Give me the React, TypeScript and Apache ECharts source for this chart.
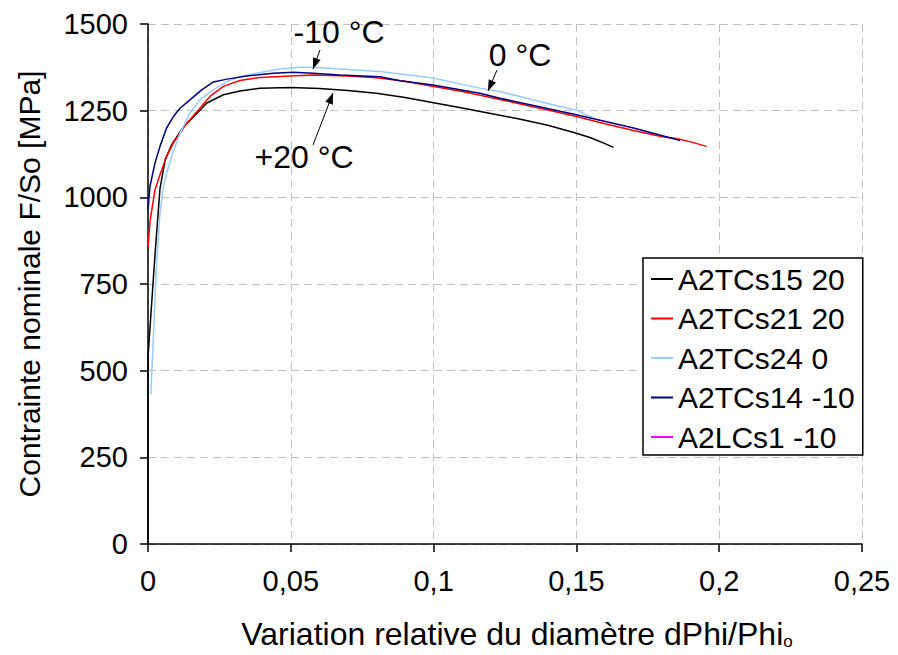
import React, { useEffect, useRef } from "react";
import * as echarts from "echarts";

// Tick values
const xTickValues = [0, 0.05, 0.1, 0.15, 0.2, 0.25];
const yTickValues = [0, 250, 500, 750, 1000, 1250, 1500];

const seriesNames = ["A2TCs15 20", "A2TCs21 20", "A2TCs24 0", "A2TCs14 -10", "A2LCs1 -10"];
const seriesColors = ["#000000", "#ff0000", "#99ccff", "#000080", "#ff00ff"];

// [dPhi/Phi0, F/So MPa]
const a2tcs15_20: number[][] = [
  [0, 0], [0, 540], [0.0025, 840], [0.0042, 1025], [0.006, 1108], [0.0083, 1152], [0.0124, 1203],
  [0.0159, 1232], [0.0206, 1272], [0.0264, 1296], [0.0322, 1307], [0.0392, 1315], [0.05, 1317],
  [0.06, 1314], [0.07, 1308], [0.08, 1300], [0.09, 1288], [0.1, 1273], [0.11, 1258], [0.12, 1242],
  [0.13, 1226], [0.14, 1208], [0.15, 1185], [0.155, 1172], [0.16, 1155], [0.163, 1144],
];
const a2tcs21_20: number[][] = [
  [0, 855], [0.0007, 930], [0.00245, 1022], [0.0042, 1065], [0.0065, 1118], [0.0089, 1157],
  [0.0112, 1185], [0.0136, 1214], [0.0171, 1247], [0.0217, 1291], [0.0264, 1320], [0.0322, 1337],
  [0.0392, 1346], [0.0497, 1350], [0.0578, 1353], [0.07, 1350], [0.08, 1345], [0.09, 1335],
  [0.1, 1320], [0.11, 1305], [0.12, 1288], [0.13, 1270], [0.14, 1252], [0.15, 1233], [0.16, 1212],
  [0.17, 1193], [0.18, 1175], [0.185, 1170], [0.19, 1160], [0.1956, 1147],
];
const a2tcs24_0: number[][] = [
  [0.001, 432], [0.0019, 600], [0.003, 811], [0.0042, 955], [0.0054, 1032], [0.0065, 1070],
  [0.0089, 1132], [0.0112, 1185], [0.0147, 1243], [0.0182, 1281], [0.0229, 1310], [0.0276, 1334],
  [0.0322, 1348], [0.0392, 1360], [0.0462, 1370], [0.0532, 1375], [0.0578, 1375], [0.0812, 1363],
  [0.0998, 1344], [0.1162, 1315], [0.1232, 1305], [0.1443, 1262], [0.15, 1252], [0.1559, 1228],
];
const a2tcs14_m10: number[][] = [
  [0, 965], [0.0007, 1032], [0.00245, 1099], [0.0042, 1147], [0.0065, 1200], [0.0089, 1233],
  [0.0112, 1257], [0.0147, 1281], [0.0188, 1310], [0.0229, 1333], [0.0276, 1341], [0.0346, 1350],
  [0.0439, 1358], [0.0509, 1361], [0.0578, 1358], [0.0672, 1353], [0.0812, 1348], [0.0882, 1336],
  [0.0998, 1324], [0.1162, 1300], [0.1232, 1286], [0.15, 1238], [0.17, 1200], [0.1863, 1164],
];
const a2lcs1_m10: number[][] = [];

const seriesData = [a2tcs15_20, a2tcs21_20, a2tcs24_0, a2tcs14_m10, a2lcs1_m10];

// Annotations: label text, label centre, arrow start -> arrow tip (pixels)
const annotationTexts = ["-10 °C", "0 °C", "+20 °C"];
const annotationPos = [[339, 32], [520, 55], [304, 157]];
const annotationArrows = [[320, 50, 313, 69], [497, 70, 488, 91], [313, 145, 333, 93]];

const FONT = "'Liberation Sans', Arial, sans-serif";

function arrowHead(x1: number, y1: number, x2: number, y2: number) {
  const dx = x2 - x1, dy = y2 - y1;
  const len = Math.sqrt(dx * dx + dy * dy);
  const ux = dx / len, uy = dy / len;
  const bx = x2 - ux * 11, by = y2 - uy * 11;
  const px = -uy * 4, py = ux * 4;
  return [[x2, y2], [bx + px, by + py], [bx - px, by - py]];
}

export default function App() {
  const ref = useRef<HTMLDivElement>(null);
  useEffect(() => {
    if (!ref.current) return;
    const chart = echarts.init(ref.current, undefined, { renderer: "svg" });
    const graphics: any[] = [];
    annotationTexts.forEach((t, i) => {
      graphics.push({
        type: "text",
        x: annotationPos[i][0],
        y: annotationPos[i][1],
        z: 100,
        style: {
          text: t,
          fontSize: 32,
          fontFamily: FONT,
          fill: "#000",
          align: "center",
          verticalAlign: "middle",
          textAlign: "center",
          textVerticalAlign: "middle",
        },
      });
      const [x1, y1, x2, y2] = annotationArrows[i];
      graphics.push({
        type: "line",
        z: 100,
        shape: { x1, y1, x2, y2 },
        style: { stroke: "#000", lineWidth: 1 },
      });
      graphics.push({
        type: "polygon",
        z: 100,
        shape: { points: arrowHead(x1, y1, x2, y2) },
        style: { fill: "#000" },
      });
    });

    chart.setOption({
      animation: false,
      backgroundColor: "#fff",
      textStyle: { fontFamily: FONT },
      grid: { left: 148, right: 36, top: 24, bottom: 110, containLabel: false },
      legend: {
        orient: "vertical",
        left: 643,
        top: 258,
        selectedMode: false,
        icon: "rect",
        itemWidth: 22,
        itemHeight: 2,
        itemGap: 9.5,
        padding: [6, 8, 3, 8],
        borderColor: "#000",
        borderWidth: 1.5,
        backgroundColor: "#fff",
        textStyle: { fontSize: 30, lineHeight: 30, color: "#000", fontFamily: FONT },
        data: seriesNames,
      },
      xAxis: {
        type: "value",
        min: xTickValues[0],
        max: xTickValues[xTickValues.length - 1],
        interval: 0.05,
        name: "{a|Variation relative du diamètre dPhi/Phi}{s|o}",
        nameLocation: "middle",
        nameGap: 74,
        nameTextStyle: {
          padding: [0, 0, 0, 24],
          rich: {
            a: { fontSize: 32, color: "#000", fontFamily: FONT },
            s: { fontSize: 17, color: "#000", fontFamily: FONT, verticalAlign: "bottom", padding: [14, 0, 0, 0] },
          },
        },
        axisLine: { lineStyle: { color: "#000", width: 1.5 } },
        axisTick: { show: true, inside: false, length: 8, lineStyle: { color: "#000", width: 1.5 } },
        axisLabel: {
          fontSize: 29,
          color: "#000",
          margin: 22,
          fontFamily: FONT,
          formatter: (v: number) => String(Number(v.toFixed(2))).replace(".", ","),
        },
        splitLine: { show: true, lineStyle: { color: "#c0c0c0", width: 1, type: [8, 5] } },
      },
      yAxis: {
        type: "value",
        min: yTickValues[0],
        max: yTickValues[yTickValues.length - 1],
        interval: 250,
        name: "Contrainte nominale F/So [MPa]",
        nameLocation: "middle",
        nameRotate: 90,
        nameGap: 104,
        nameTextStyle: { fontSize: 30, color: "#000", fontFamily: FONT },
        axisLine: { show: true, lineStyle: { color: "#000", width: 1.5 } },
        axisTick: { show: true, inside: false, length: 8, lineStyle: { color: "#000", width: 1.5 } },
        axisLabel: {
          fontSize: 29,
          color: "#000",
          margin: 20,
          fontFamily: FONT,
          formatter: (v: number) => String(v),
        },
        splitLine: { show: true, lineStyle: { color: "#c0c0c0", width: 1, type: [8, 5] } },
      },
      series: seriesNames.map((name, i) => ({
        name,
        type: "line",
        data: seriesData[i],
        color: seriesColors[i],
        showSymbol: false,
        symbol: "none",
        smooth: false,
        lineStyle: { color: seriesColors[i], width: 1.5 },
        emphasis: { disabled: true },
      })),
      graphic: graphics,
    });
    return () => chart.dispose();
  }, []);
  return (
    <div
      ref={ref}
      style={{ position: "fixed", left: 0, top: 0, width: 898, height: 655 }}
    />
  );
}
